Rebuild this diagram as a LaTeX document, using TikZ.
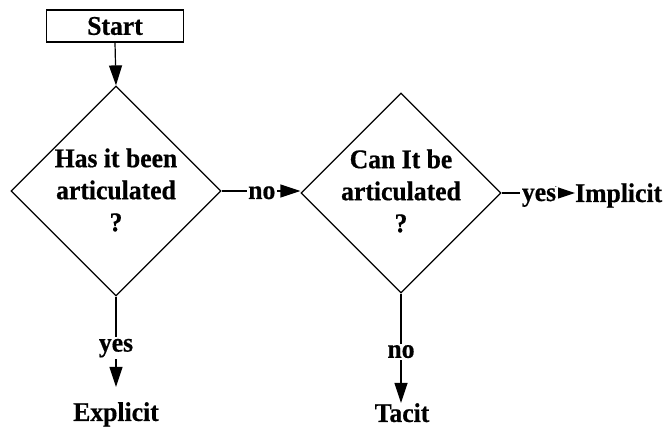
\documentclass[tikz,border=0pt]{standalone}
\usepackage{fontspec}
\setmainfont{Liberation Serif}[BoldFeatures={FakeStretch=0.95,FakeBold=0.6}]
\usetikzlibrary{shapes.geometric,arrows.meta}
\begin{document}
\begin{tikzpicture}[x=1pt,y=-1pt,
  every node/.style={font=\fontsize{27}{32}\selectfont\bfseries},
  box/.style={draw,line width=1.2pt,rectangle,minimum width=137pt,minimum height=32pt,inner sep=0pt},
  decision/.style={draw,line width=1.2pt,diamond,inner sep=0pt},
  qtext/.style={align=center,inner sep=0pt},
  endtext/.style={inner sep=0pt},
  flow/.style={line width=1.2pt,-{Triangle[length=20pt,width=13pt]}},
  tag/.style={fill=white,inner sep=1.5pt},
  htag/.style={tag,anchor=base,yshift=-8pt}]
  \useasboundingbox (0,0) rectangle (670,427);
  % nodes
  \node[box] (start) at (115,26) {Start};
  \node[decision,minimum width=210pt,minimum height=210pt] (d1) at (116,191) {};
  \node[qtext] (q1) at (116,190) {Has it been\\articulated\\?};
  \node[decision,minimum width=200pt,minimum height=200pt] (d2) at (401,193) {};
  \node[qtext] (q2) at (401,191) {Can It be\\articulated\\?};
  \node[endtext,anchor=base west] (implicit) at (575,202) {Implicit};
  \node[endtext,anchor=north,inner ysep=15pt] (explicit) at (116,387) {Explicit};
  \node[endtext,anchor=north] (tacit) at (402,403) {Tacit};
  % connectors
  \draw[flow] (start.south) -- (d1.north);
  \draw[flow] (d1.east) -- node[htag,pos=0.51] (lno) {no} (d1.east -| d2.west);
  \draw[flow] (d2.east) -- node[htag,pos=0.51] (lyes) {yes} (d2.east -| implicit.west);
  \draw[flow] (d1.south) -- node[tag,pos=0.57] (dyes) {yes} (explicit.north);
  \draw[flow] (d2.south) -- node[tag,pos=0.53] (dno) {no} (d2.south |- tacit.north);
\end{tikzpicture}
\end{document}
